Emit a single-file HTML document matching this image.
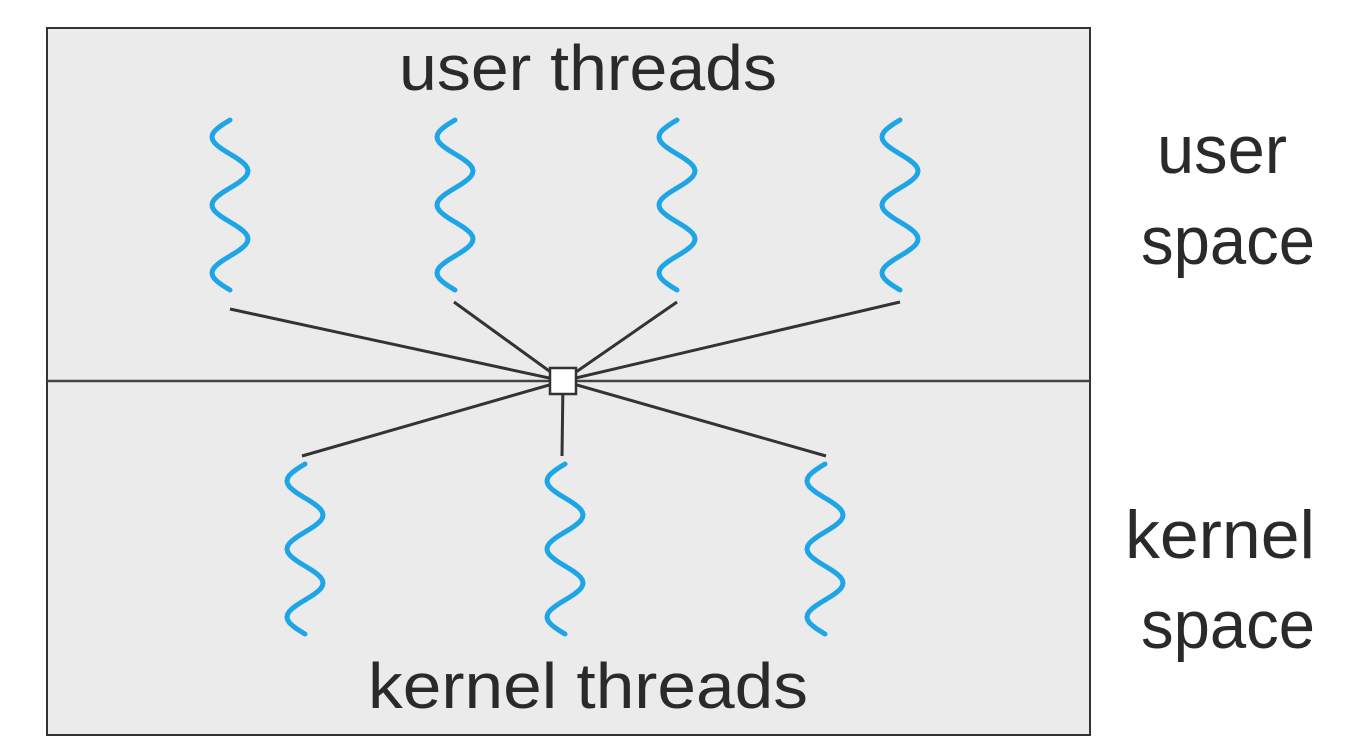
<!DOCTYPE html>
<html><head><meta charset="utf-8"><style>
html,body{margin:0;padding:0;background:#fff;}
svg{display:block;}
text{font-family:"Liberation Sans",sans-serif;fill:#2a2a2a;}
</style></head><body>
<svg id="s" width="1353" height="754" viewBox="0 0 1353 754">
<rect x="47" y="28" width="1043" height="707" fill="#ebebeb" stroke="#333" stroke-width="2"/>
<line x1="47" y1="381" x2="1090" y2="381" stroke="#444" stroke-width="2.5"/>
<g stroke="#333" stroke-width="3">
<line x1="230" y1="309" x2="563" y2="381"/>
<line x1="454" y1="302" x2="563" y2="381"/>
<line x1="677" y1="302" x2="563" y2="381"/>
<line x1="900" y1="302" x2="563" y2="381"/>
<line x1="302" y1="456" x2="563" y2="381"/>
<line x1="562" y1="456" x2="563" y2="381"/>
<line x1="826" y1="456" x2="563" y2="381"/>
</g>
<rect x="550" y="368" width="26" height="26" fill="#fff" stroke="#333" stroke-width="2.5"/>
<g id="w" fill="none" stroke="#1ea5e6" stroke-width="5" stroke-linecap="round"></g>
<text x="588" y="90" font-size="64" text-anchor="middle" textLength="378" lengthAdjust="spacingAndGlyphs">user threads</text>
<text x="588" y="708" font-size="64" text-anchor="middle" textLength="440" lengthAdjust="spacingAndGlyphs">kernel threads</text>
<text x="1222" y="173" font-size="68" text-anchor="middle" textLength="130" lengthAdjust="spacingAndGlyphs">user</text>
<text x="1228" y="264" font-size="68" text-anchor="middle" textLength="174" lengthAdjust="spacingAndGlyphs">space</text>
<text x="1220" y="558" font-size="68" text-anchor="middle" textLength="190" lengthAdjust="spacingAndGlyphs">kernel</text>
<text x="1228" y="648" font-size="68" text-anchor="middle" textLength="174" lengthAdjust="spacingAndGlyphs">space</text>
</svg>
<script>
var g=document.getElementById('w');
function wave(cx,y0,y1){
  var d='',n=60,L=y1-y0;
  for(var i=0;i<=n;i++){
    var t=i/n,y=y0+t*L;
    var x=cx-18*Math.sin(Math.PI*2*2.5*t);
    d+=(i?'L':'M')+x.toFixed(1)+','+y.toFixed(1);
  }
  var p=document.createElementNS('http://www.w3.org/2000/svg','path');
  p.setAttribute('d',d);g.appendChild(p);
}
[230,455,677,900].forEach(function(c){wave(c,120,290);});
[305,565,825].forEach(function(c){wave(c,464,634);});
</script>
</body></html>
